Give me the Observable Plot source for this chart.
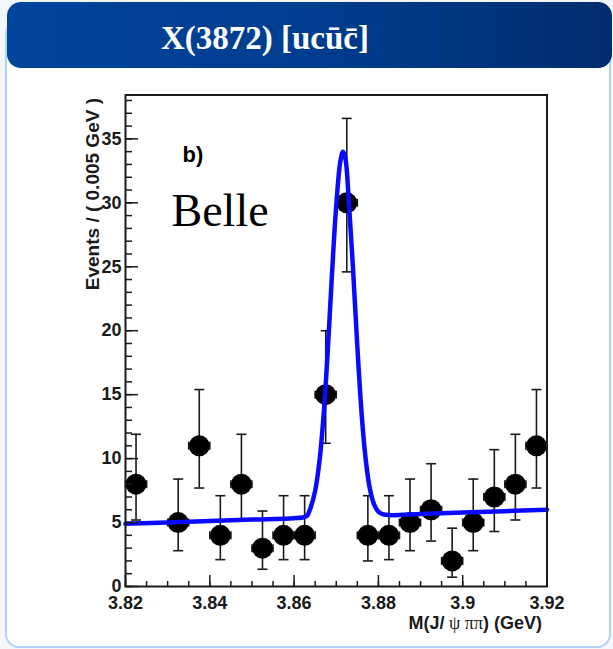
<!DOCTYPE html>
<html><head><meta charset="utf-8">
<script src="https://cdn.jsdelivr.net/npm/d3@7"></script>
<script src="https://cdn.jsdelivr.net/npm/@observablehq/plot@0.6"></script>
<style>
html,body{margin:0;padding:0;width:613px;height:649px;overflow:hidden;background:#f3f6fa;}
#panel{position:absolute;left:5px;top:20px;width:606px;height:628px;background:#fff;border:2px solid #b3d2fa;border-radius:14px;box-sizing:border-box;}
#banner{position:absolute;left:7px;top:2px;width:605px;height:66px;border-radius:14px;background:linear-gradient(90deg,#00449c 0%,#003d8f 50%,#002d6e 100%);}
#title{position:absolute;left:0;top:22px;width:530px;text-align:center;color:#fff;font-family:"Liberation Serif","Times New Roman",serif;font-weight:bold;font-size:33px;line-height:33px;white-space:nowrap;}
#chart{position:absolute;left:0;top:70px;}
</style></head>
<body>
<div id="panel"></div>
<div id="banner"></div>
<div id="title">X(3872) [ucūc̄]</div>
<div id="chart"></div>
<script>
// Data points: bin centres (GeV), events per bin, asymmetric error-bar ends
const binX = [3.8225, 3.8325, 3.8375, 3.8425, 3.8475, 3.8525, 3.8575, 3.8625, 3.8675, 3.8725,
              3.8775, 3.8825, 3.8875, 3.8925, 3.8975, 3.9025, 3.9075, 3.9125, 3.9175];
const counts = [8, 5, 11, 4, 8, 3, 4, 4, 15, 30, 4, 4, 5, 6, 2, 5, 7, 8, 11];
const errLo = [5.2, 2.8, 7.7, 2.1, 5.2, 1.35, 2.1, 2.1, 11.2, 24.6, 2.0, 2.1, 2.8, 3.55, 0.73, 2.8, 4.3, 5.2, 7.7];
const errHi = [11.9, 8.4, 15.4, 7.1, 11.9, 5.9, 7.1, 7.1, 20.0, 36.6, 7.1, 7.1, 8.4, 9.6, 4.56, 8.4, 10.7, 11.9, 15.4];
const binHalfWidth = 0.0025;

// Fit curve
const fitX = [3.8200, 3.8300, 3.8400, 3.8500, 3.8600, 3.8620, 3.8630, 3.8640, 3.8650, 3.8660,
              3.8670, 3.8680, 3.8690, 3.8700, 3.8710, 3.8716, 3.8722, 3.8730, 3.8740, 3.8750,
              3.8760, 3.8770, 3.8780, 3.8790, 3.8800, 3.8810, 3.8830, 3.8900, 3.9000, 3.9100, 3.9200];
const fitY = [4.90, 5.01, 5.12, 5.23, 5.34, 5.40, 5.50, 6.25, 7.50, 9.75,
              13.4, 18.5, 24.5, 29.8, 33.3, 34.0, 33.4, 30.0, 24.7, 18.8,
              13.6, 9.9, 7.6, 6.4, 5.85, 5.65, 5.58, 5.67, 5.78, 5.89, 6.00];

// Axis ticks and labels
const xMajor = [3.82, 3.84, 3.86, 3.88, 3.90, 3.92];
const xMajorLabels = ["3.82", "3.84", "3.86", "3.88", "3.9", "3.92"];
const xMinor = d3.range(0, 21).map(i => 3.82 + i * 0.005);
const yMajor = [0, 5, 10, 15, 20, 25, 30, 35];
const yMajorLabels = ["0", "5", "10", "15", "20", "25", "30", "35"];
const yMinor = d3.range(0, 39);

const xTitle = "M(J/ ψ ππ) (GeV)";
const yTitle = "Events / ( 0.005 GeV )";
const tagText = "b)";
const expText = "Belle";

const pts = binX.map((x, i) => ({x, n: counts[i], lo: errLo[i], hi: errHi[i]}));
const fit = fitX.map((x, i) => ({x, y: fitY[i]}));

const W = 613, H = 579, ML = 125, MR = 66.5, MT = 24.5, MB = 63;
const frameW = W - ML - MR, frameH = H - MT - MB;

const hCap = {draw(ctx, size) { const w = Math.sqrt(size / Math.PI); ctx.moveTo(-w, 0); ctx.lineTo(w, 0); }};
const vCap = {draw(ctx, size) { const w = Math.sqrt(size / Math.PI); ctx.moveTo(0, -w); ctx.lineTo(0, w); }};
const ink = "#1a1a1a";
const noText = () => "";

const plot = Plot.plot({
  width: W,
  height: H,
  marginLeft: ML,
  marginRight: MR,
  marginTop: MT,
  marginBottom: MB,
  x: {domain: [3.82, 3.92]},
  y: {domain: [0, 38.43]},
  style: {fontFamily: "'Liberation Sans', Arial, sans-serif", fontWeight: "bold", fontSize: "18px", background: "transparent", overflow: "visible", color: ink},
  marks: [
    Plot.ruleX(pts, {x: "x", y1: "lo", y2: "hi", stroke: ink, strokeWidth: 1.6}),
    Plot.dot(pts, {x: "x", y: "lo", symbol: hCap, r: 5, stroke: ink, fill: "none", strokeWidth: 1.6}),
    Plot.dot(pts, {x: "x", y: "hi", symbol: hCap, r: 5, stroke: ink, fill: "none", strokeWidth: 1.6}),
    Plot.ruleY(pts, {y: "n", x1: d => d.x - binHalfWidth, x2: d => d.x + binHalfWidth, stroke: ink, strokeWidth: 1.6}),
    Plot.dot(pts, {x: d => d.x - binHalfWidth, y: "n", symbol: vCap, r: 4, stroke: ink, fill: "none", strokeWidth: 1.6}),
    Plot.dot(pts, {x: d => d.x + binHalfWidth, y: "n", symbol: vCap, r: 4, stroke: ink, fill: "none", strokeWidth: 1.6}),
    Plot.dot(pts, {x: "x", y: "n", r: 10.5, fill: "#000", stroke: "none"}),
    Plot.line(fit, {x: "x", y: "y", stroke: "#0a0aff", strokeWidth: 4.5, curve: "catmull-rom"}),
    Plot.frame({stroke: ink, strokeWidth: 2}),
    // inward ticks (ROOT style): right/top anchored axes shifted onto the left/bottom spines
    Plot.axisY(yMinor, {anchor: "right", dx: -frameW, tickSize: 6, tickFormat: noText, label: null, strokeWidth: 1.5, stroke: ink}),
    Plot.axisY(yMajor, {anchor: "right", dx: -frameW, tickSize: 12, tickFormat: noText, label: null, strokeWidth: 1.5, stroke: ink}),
    Plot.axisX(xMinor, {anchor: "top", dy: frameH, tickSize: 6, tickFormat: noText, label: null, strokeWidth: 1.5, stroke: ink}),
    Plot.axisX(xMajor, {anchor: "top", dy: frameH, tickSize: 12, tickFormat: noText, label: null, strokeWidth: 1.5, stroke: ink}),
    // tick labels
    Plot.axisY(yMajor, {tickSize: 0, tickPadding: 4, tickFormat: d => yMajorLabels[yMajor.indexOf(d)], label: null, fill: ink}),
    Plot.axisX(xMajor, {tickSize: 0, tickPadding: 10, tickFormat: d => xMajorLabels[xMajor.indexOf(d)], label: null, fill: ink}),
    Plot.text([yTitle], {frameAnchor: "top-left", rotate: -90, textAnchor: "end", dx: -40, dy: 3, fontSize: 19, fill: ink}),
    Plot.text([xTitle], {frameAnchor: "bottom-right", textAnchor: "end", dx: -5, dy: 42, fontSize: 18, fill: ink}),
    Plot.text([tagText], {frameAnchor: "top-left", textAnchor: "start", dx: 57, dy: 51, fontSize: 22, fill: "#000"}),
    Plot.text([expText], {frameAnchor: "top-left", textAnchor: "start", dx: 46, dy: 98, fontSize: 46, fontWeight: "normal", fontFamily: "'Liberation Serif', 'Times New Roman', serif", fill: "#000"})
  ]
});
document.getElementById("chart").appendChild(plot);

// Greek letters of the x title in a regular serif face, as in the original
plot.querySelectorAll("text").forEach(t => {
  if (t.textContent === xTitle) {
    const parts = [["M(J/", null], [" ψ ", "serif"], ["ππ", "serif"], [") (GeV)", null]];
    t.textContent = "";
    for (const [s, f] of parts) {
      const ts = document.createElementNS("http://www.w3.org/2000/svg", "tspan");
      ts.textContent = s;
      if (f) { ts.setAttribute("font-family", "'Liberation Serif', serif"); ts.setAttribute("font-weight", "normal"); }
      t.appendChild(ts);
    }
  }
});
</script>
</body></html>
